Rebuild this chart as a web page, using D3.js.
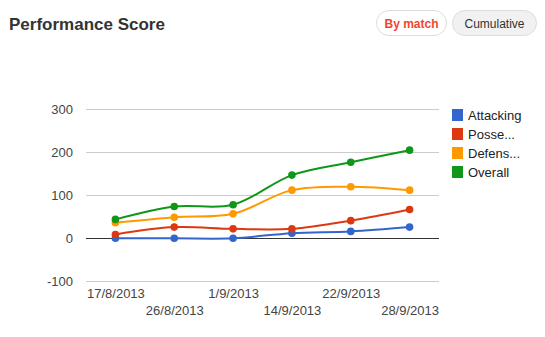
<!DOCTYPE html>
<html>
<head>
<meta charset="utf-8">
<script src="https://cdn.jsdelivr.net/npm/d3@7"></script>
<style>
  body { margin: 0; background: #fff; font-family: Arial, "Liberation Sans", sans-serif; }
  svg { display: block; }
</style>
</head>
<body>
<svg id="chart" width="545" height="337"></svg>
<script>
// data
const dates = ['17/8/2013', '26/8/2013', '1/9/2013', '14/9/2013', '22/9/2013', '28/9/2013'];
const seriesNames = ['Attacking', 'Posse...', 'Defens...', 'Overall'];
const attacking = [0, 0, 0, 12, 16, 26];
const possession = [9, 26, 22, 22, 41, 67];
const defensive = [36, 49, 57, 112, 120, 112];
const overall = [44, 74, 78, 147, 177, 205];
const yTicks = [-100, 0, 100, 200, 300];

const COLORS = ['#3366cc', '#dc3912', '#ff9900', '#109618'];
const series = [attacking, possession, defensive, overall];

const svg = d3.select('#chart');

// ── Header ───────────────────────────────────────────────────────────────
svg.append('text')
  .attr('x', 9).attr('y', 30)
  .attr('font-size', 17).attr('font-weight', 'bold')
  .attr('fill', '#333')
  .text('Performance Score');

const buttons = [
  { label: 'By match', x: 376, w: 70, fill: '#fff', color: '#f0462f', weight: 'bold' },
  { label: 'Cumulative', x: 452, w: 84, fill: '#f1f1f1', color: '#333', weight: 'normal' },
];
const btn = svg.append('g').selectAll('g').data(buttons).join('g');
btn.append('rect')
  .attr('x', d => d.x + 0.5).attr('y', 10.5)
  .attr('width', d => d.w).attr('height', 25)
  .attr('rx', 12.5)
  .attr('fill', d => d.fill).attr('stroke', '#ddd');
btn.append('text')
  .attr('x', d => d.x + d.w / 2 + 0.5).attr('y', 27.5)
  .attr('text-anchor', 'middle')
  .attr('font-size', 12)
  .attr('font-weight', d => d.weight)
  .attr('fill', d => d.color)
  .text(d => d.label);

// ── Plot ─────────────────────────────────────────────────────────────────
const plot = { left: 86, right: 439, top: 109.3, bottom: 281.3 };

const x = d3.scalePoint().domain(dates).range([plot.left, plot.right]).padding(0.5);
const y = d3.scaleLinear().domain([-100, 300]).range([plot.bottom, plot.top]);

const grid = svg.append('g');
grid.selectAll('line')
  .data(yTicks).join('line')
  .attr('x1', plot.left).attr('x2', plot.right)
  .attr('y1', d => Math.round(y(d)) + 0.5).attr('y2', d => Math.round(y(d)) + 0.5)
  .attr('stroke', d => d === 0 ? '#333' : '#ccc');

const yAxis = d3.axisLeft(y).tickValues(yTicks).tickFormat(d => String(d))
  .tickSize(0).tickPadding(0);
svg.append('g')
  .attr('transform', `translate(${plot.left - 13},0)`)
  .call(yAxis)
  .call(g => g.select('.domain').remove())
  .call(g => g.selectAll('text')
    .attr('font-family', 'Arial, "Liberation Sans", sans-serif')
    .attr('font-size', 13).attr('fill', '#444'));

const xAxis = d3.axisBottom(x).tickSize(0).tickPadding(0);
svg.append('g')
  .attr('transform', `translate(0,${plot.bottom})`)
  .call(xAxis)
  .call(g => g.select('.domain').remove())
  .call(g => g.selectAll('text')
    .attr('font-family', 'Arial, "Liberation Sans", sans-serif')
    .attr('font-size', 13).attr('fill', '#444')
    .attr('dy', null)
    .attr('y', (d, i) => i % 2 === 0 ? 17 : 34));

const line = d3.line()
  .x((d, i) => x(dates[i]))
  .y(d => y(d))
  .curve(d3.curveCatmullRom.alpha(0.5));

const lines = svg.append('g');
series.forEach((vals, s) => {
  lines.append('path')
    .attr('d', line(vals))
    .attr('fill', 'none')
    .attr('stroke', COLORS[s])
    .attr('stroke-width', 2);
  lines.append('g').selectAll('circle')
    .data(vals).join('circle')
    .attr('cx', (d, i) => x(dates[i]))
    .attr('cy', d => y(d))
    .attr('r', 3.8)
    .attr('fill', COLORS[s]);
});

// ── Legend ───────────────────────────────────────────────────────────────
const legend = svg.append('g').selectAll('g')
  .data(seriesNames).join('g')
  .attr('transform', (d, i) => `translate(452,${109 + i * 19})`);
legend.append('rect')
  .attr('width', 11).attr('height', 12)
  .attr('fill', (d, i) => COLORS[i]);
legend.append('text')
  .attr('x', 16).attr('y', 11)
  .attr('font-size', 13).attr('fill', '#222')
  .text(d => d);
</script>
</body>
</html>
